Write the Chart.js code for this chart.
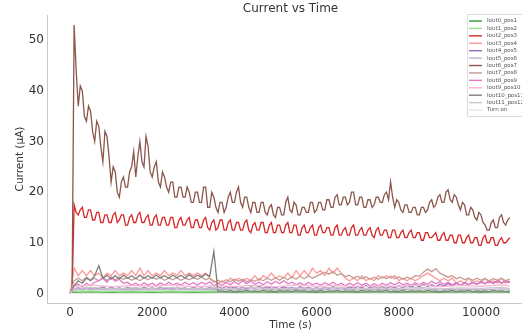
<!DOCTYPE html>
<html>
<head>
<meta charset="utf-8">
<script src="https://cdn.jsdelivr.net/npm/chart.js@4"></script>
<style>
html, body { margin: 0; padding: 0; background: #fff; overflow: hidden; }
#wrap { width: 522px; height: 336px; overflow: hidden; }
canvas { display: block; }
</style>
</head>
<body>
<div id="wrap"><canvas id="currentChart" width="540" height="336" style="width:540px;height:336px"></canvas></div>
<script>
// sample times (s)
const timeDense = [0,50,100,150,200,250,300,350,400,450,
  500,550,600,650,700,750,800,850,900,950,
  1000,1050,1100,1150,1200,1250,1300,1350,1400,1450,
  1500,1550,1600,1650,1700,1750,1800,1850,1900,1950,
  2000,2050,2100,2150,2200,2250,2300,2350,2400,2450,
  2500,2550,2600,2650,2700,2750,2800,2850,2900,2950,
  3000,3050,3100,3150,3200,3250,3300,3350,3400,3450,
  3500,3550,3600,3650,3700,3750,3800,3850,3900,3950,
  4000,4050,4100,4150,4200,4250,4300,4350,4400,4450,
  4500,4550,4600,4650,4700,4750,4800,4850,4900,4950,
  5000,5050,5100,5150,5200,5250,5300,5350,5400,5450,
  5500,5550,5600,5650,5700,5750,5800,5850,5900,5950,
  6000,6050,6100,6150,6200,6250,6300,6350,6400,6450,
  6500,6550,6600,6650,6700,6750,6800,6850,6900,6950,
  7000,7050,7100,7150,7200,7250,7300,7350,7400,7450,
  7500,7550,7600,7650,7700,7750,7800,7850,7900,7950,
  8000,8050,8100,8150,8200,8250,8300,8350,8400,8450,
  8500,8550,8600,8650,8700,8750,8800,8850,8900,8950,
  9000,9050,9100,9150,9200,9250,9300,9350,9400,9450,
  9500,9550,9600,9650,9700,9750,9800,9850,9900,9950,
  10000,10050,10100,10150,10200,10250,10300,10350,10400,10450,
  10500,10550,10600,10650,10700];
const timeFine = [0,100,200,300,400,500,600,700,800,900,
  1000,1100,1200,1300,1400,1500,1600,1700,1800,1900,
  2000,2100,2200,2300,2400,2500,2600,2700,2800,2900,
  3000,3100,3200,3300,3400,3500,3600,3700,3800,3900,
  4000,4100,4200,4300,4400,4500,4600,4700,4800,4900,
  5000,5100,5200,5300,5400,5500,5600,5700,5800,5900,
  6000,6100,6200,6300,6400,6500,6600,6700,6800,6900,
  7000,7100,7200,7300,7400,7500,7600,7700,7800,7900,
  8000,8100,8200,8300,8400,8500,8600,8700,8800,8900,
  9000,9100,9200,9300,9400,9500,9600,9700,9800,9900,
  10000,10100,10200,10300,10400,10500,10600,10700];
const timeCoarse = [0,100,500,1000,1500,2000,2500,3000,3500,4000,4500,5000,5500,6000,6500,7000,7500,8000,8500,9000,9500,10000,10500,10700];

// tick labels
const xTicks = [0, 2000, 4000, 6000, 8000, 10000];
const yTicks = [0, 10, 20, 30, 40, 50];

// currents (uA)
const iout6 = [0,0,53,44,37,41,40,35,34,37,
  36,32,30,34,33,29,26,32,31,27,
  22,25,24,20,19,22,23,21,21,24,
  25,28,23,27,30,26,25,31,29,24,
  23,25,26,22,21,24,23,21,20,22,
  22,19,19,21,21,19,19,21,20,18,
  18,20,20,18,18,21,21,17,17,20,
  19,17,16,18,18,16,17,19,20,18,
  18,20,21,18,17,19,19,17,16,18,
  18,16,16,18,18,16,15.5,17,17.5,15.5,
  15,17,17,15.5,15.5,18,19,16.5,16,18,
  17.5,15.5,15.5,17,17,16,16,18,18,16,
  16.5,18,18,16.5,16.5,18.5,18.5,17,17,19,
  19.5,17.5,17.5,19,19,17.5,18,20,20,17.5,
  17.5,19,19,17,17,18.5,18.5,17,17.5,19,
  19,18,18,19.5,20,18.5,22,19,17,18.5,
  18,16.5,16,17.5,17.5,16,16,17,17,15.5,
  15.5,17,17,16,16.5,18,18.5,17,17.5,19,
  19.5,18,18,20,20.5,18.5,18,19.5,19,17.5,
  16.5,18,17.5,15.5,15.5,17,16.5,15,14.5,16,
  15.5,14,13.5,12.5,12.5,14,14.5,13,13,15,
  15.5,14,13.5,14.5,15];
const iout2 = [0,0,17.5,16,15.5,16.5,17,15,15,16.5,
  16.5,14.5,14.5,16,16,14,14,15.5,15.5,14,
  14,15.5,16,14,14.5,15.5,15.5,13.5,13.5,15,
  15.5,14,14,15.5,16,14,14,15,15.5,13.5,
  13.5,15,15.5,13.5,13.5,15,15,13.5,13.5,15,
  15,13,13,14.5,15,13.5,13.5,14.5,15,13,
  13,14.5,14.5,13,13,14.5,15,13,12.5,14,
  14.5,12.5,13,14.5,14.5,12.5,12.5,14,14.5,12.5,
  12.5,14,14,12.5,12.5,14,14.5,12.5,12,13.5,
  14,12.5,12.5,14,14,12,12,13.5,14,12,
  12,13.5,13.5,12,12,13.5,14,12,12,13.5,
  13.5,11.5,11.5,13,13.5,12,12,13,13.5,11.5,
  11.5,13,13.5,12,12,13,13,11.5,11.5,13,
  13.5,11.5,11.5,12.5,13,11.5,11.5,13,13.5,11.5,
  11.5,12.5,13,11.5,11.5,12.5,13,11.5,11,12.5,
  13,11.5,11.5,12.5,12.5,11,11,12.5,12.5,11,
  11,12,12.5,11,11,12,12.5,11,11,12,
  12,10.5,10.5,12,12,11,11,11.5,12,10.5,
  10.5,11.5,12,10.5,10.5,11.5,11.5,10,10,11.5,
  11.5,10,10,11,11.5,10,10,11,11,9.5,
  9.5,11,11.5,10,10,11,11,9.5,9.5,10.5,
  11,10,10,10.5,11];
const iout3 = [0,5,3.5,4.5,3.5,4.5,3.5,4,3,4,
  3.5,4.5,3.5,4,3.5,4.5,3.5,5,3.5,4.5,
  3.5,4,3.5,4.5,3.5,4,3.5,4.5,3.5,4,
  3.5,4,3.5,4,3,2.5,2,2.5,2,3,
  2.5,3,2.5,3,2.5,3.5,2.5,3.5,3,4,
  3,3.5,3,4,3,4.5,3.5,4.5,3.5,5,
  4,4.5,3.5,5,4,5,4,3,2.5,3,
  2.5,3.5,2.5,3,2.5,3.5,3,3.5,3,3.5,
  2.5,3,2.5,3,2.5,3,3.5,4,3.5,3,
  2.5,3,2.5,3,2,2.5,2,3,2,2.5,
  2,3,2,2.5,2,3,2,2.5];
const iout7 = [0,2.5,3,2.5,3.2,2.6,3,2.5,3.1,2.6,
  3,2.7,3.2,2.8,3.1,2.6,3,2.5,3.1,2.7,
  3.2,2.8,3.1,2.6,3,2.7,3.1,2.6,3,2.7,
  3.1,2.8,3.2,2.7,3,2.2,2.6,2.2,2.7,2.3,
  2.8,2.4,2.8,2.3,2.7,2.4,2.9,2.5,3,2.6,
  3.1,2.6,3.2,2.7,3.3,2.8,3.4,2.9,3.5,3,
  3.4,3.8,4.2,3.8,4.3,3.6,3.9,3.3,3.6,3,
  3.4,2.9,3.3,2.8,3.2,2.8,3.3,2.9,3.4,2.9,
  3.3,2.8,3.2,2.9,3.5,3.4,4.2,4.8,4.3,4.9,
  4,3.6,3.2,3.5,2.9,3.2,2.7,3,2.6,3,
  2.6,2.9,2.5,2.9,2.6,3,2.5,2.8];
const iout10 = [0,1.5,2.5,2,3,2.5,3.5,5.5,3,3.6,
  2.8,3.5,2.9,3.6,3,3.5,2.9,3.6,3,3.5,
  3,3.6,3.1,3.5,3,3.6,3.1,3.6,3,3.7,
  3.1,3.6,3.2,3.8,3.4,8.3,0.4,0.5,0.3,0.6,
  0.3,0.5,0.4,0.6,0.3,0.5,0.3,0.6,0.4,0.5,
  0.3,0.6,0.4,0.5,0.3,0.6,0.4,0.5,0.3,0.5,
  0.4,0.6,0.3,0.5,0.4,0.6,0.3,0.5,0.4,0.5,
  0.3,0.6,0.4,0.5,0.3,0.5,0.4,0.6,0.3,0.5,
  0.4,0.6,0.3,0.5,0.4,0.5,0.3,0.6,0.4,0.5,
  0.3,0.5,0.4,0.6,0.3,0.5,0.4,0.6,0.3,0.5,
  0.4,0.5,0.3,0.6,0.4,0.5,0.3,0.5];
const iout8 = [0,1.5,1.8,1.3,2,1.5,2.2,2.5,3,2.2,
  3.3,2.4,2.8,2,2.2,1.6,2,1.5,2.1,1.6,
  2,1.5,2.1,1.6,2.2,1.7,2,1.6,2.2,1.7,
  2.1,1.6,2.2,1.8,2.3,1.5,2,1.6,2.2,1.7,
  2.3,1.8,2.5,1.9,2.4,1.8,2.2,1.7,2.3,1.8,
  2.4,1.9,2.5,1.9,2.2,1.7,2.1,1.6,2.2,1.7,
  2,1.6,2.1,1.7,2.2,1.6,2,1.5,2,1.6,
  2.1,1.6,2,1.5,1.9,1.5,2,1.6,2.1,1.7,
  2.2,1.7,2,1.6,2.1,1.7,2.2,1.8,2.4,1.9,
  2.3,1.8,2.2,1.7,2.1,1.6,2,1.7,2.2,1.8,
  2.3,1.9,2.4,1.9,2.5,2,2.4,2.1];
const iout4 = [0,0.8,1.1,0.7,1.2,0.8,1.1,0.9,1.3,0.8,
  1.2,0.9,1.1,0.8,1.2,0.9,1.1,0.8,1.2,0.9,
  1.1,0.8,1.2,0.9,1.1,0.8,1.2,0.9,1.1,0.8,
  1.2,0.9,1.1,0.8,1.2,0.9,1.3,1,1.4,1,
  1.3,0.9,1.2,0.9,1.3,1,1.4,1,1.3,1,
  1.2,0.9,1.3,1,1.2,0.9,1.3,1,1.2,0.9,
  1.1,0.9,1.2,1,1.3,1,1.2,0.9,1.3,1,
  1.4,1.1,1.5,1.1,1.4,1,1.3,1,1.4,1.1,
  1.5,1.1,1.6,1.2,1.7,1.3,1.8,1.4,1.7,1.3,
  1.8,1.4,1.9,1.5,2,1.6,2.1,1.7,2.2,1.8,
  2.3,1.9,2.4,2,2.5,2.1,2.4,2.2];
const iout0 = [0,0.2,0.3,0.2,0.3,0.2,0.3,0.2,0.3,0.2,0.3,0.2,0.3,0.2,0.3,0.2,0.3,0.2,0.3,0.2,0.3,0.2,0.3,0.2];
const iout1 = [0,0.4,0.5,0.4,0.5,0.4,0.5,0.4,0.5,0.4,0.5,0.4,0.5,0.4,0.5,0.4,0.5,0.4,0.5,0.4,0.5,0.4,0.5,0.4];
const iout5 = [0,0.7,0.9,0.7,0.8,0.7,0.9,0.7,0.8,0.7,0.9,0.7,0.8,0.7,0.9,0.7,0.8,0.7,0.9,0.7,0.8,0.7,0.9,0.8];
const iout9 = [0,1.4,1.7,1.3,1.6,1.4,1.7,1.3,1.5,1.4,1.6,1.3,1.7,1.4,1.6,1.3,1.5,1.4,1.7,1.3,1.6,1.4,1.7,1.5];
const iout11 = [0,1,1.2,0.9,1.1,1,1.2,0.9,1.1,1,1.2,0.9,1.1,1,1.2,0.9,1.1,1,1.2,0.9,1.1,1,1.2,1];
const turnOn = [0,0,0,0,0,0,0,0,0,0,0,0,0,0,0,0,0,0,0,0,0,0,0,0];

const seriesLabels = ['Iout0_pos1','Iout1_pos2','Iout2_pos3','Iout3_pos4','Iout4_pos5','Iout5_pos6',
  'Iout6_pos7','Iout7_pos8','Iout8_pos9','Iout9_pos10','Iout10_pos11','Iout11_pos12','Turn on'];
const seriesValues = [iout0, iout1, iout2, iout3, iout4, iout5, iout6, iout7, iout8, iout9, iout10, iout11, turnOn];
const seriesTimes = [timeCoarse, timeCoarse, timeDense, timeFine, timeFine, timeCoarse,
  timeDense, timeFine, timeFine, timeCoarse, timeFine, timeCoarse, timeCoarse];
const seriesColors = ['#2ca02c','#98df8a','#d62728','#ff9896','#9467bd','#c5b0d5',
  '#8c564b','#c49c94','#e377c2','#f7b6d2','#7f7f7f','#c7c7c7','#e6e6e0'];

const datasets = seriesLabels.map(function(label, i) {
    return {
        label: label,
        data: seriesValues[i].map(function(v, k) { return {x: seriesTimes[i][k], y: v}; }),
        borderColor: seriesColors[i],
        backgroundColor: seriesColors[i],
        borderWidth: 1.3,
        pointRadius: 0,
        tension: 0,
        order: seriesLabels.length - i   // last series drawn on top, like matplotlib
    };
});

// legend box drawn inside the plot, upper right
const insideLegend = {
    id: 'insideLegend',
    afterDraw(chart) {
        const ctx = chart.ctx;
        const area = chart.chartArea;
        const x0 = area.right - 67, y0 = area.top - 1;
        ctx.save();
        ctx.fillStyle = 'rgba(255,255,255,0.85)';
        ctx.strokeStyle = '#dcdcdc';
        ctx.lineWidth = 1;
        ctx.beginPath();
        ctx.rect(x0 + 0.5, y0 + 0.5, 80, 102);
        ctx.fill();
        ctx.stroke();
        ctx.font = '5.5px "DejaVu Sans"';
        ctx.textBaseline = 'middle';
        chart.data.datasets.forEach(function(ds, i) {
            const y = y0 + 7 + i * 7.42;
            ctx.strokeStyle = ds.borderColor;
            ctx.lineWidth = 1.4;
            ctx.beginPath();
            ctx.moveTo(x0 + 2, y);
            ctx.lineTo(x0 + 15, y);
            ctx.stroke();
            ctx.fillStyle = '#555';
            ctx.fillText(ds.label, x0 + 20, y);
        });
        ctx.restore();
    }
};

const ctx = document.getElementById('currentChart').getContext('2d');
const chart = new Chart(ctx, {
    type: 'line',
    data: { datasets: datasets },
    plugins: [insideLegend],
    options: {
        responsive: false,
        animation: false,
        layout: { padding: { left: 0, right: 6, top: 0, bottom: 0 } },
        plugins: {
            legend: { display: false },
            tooltip: { enabled: false },
            title: {
                display: true,
                text: 'Current vs Time',
                fullSize: false,
                color: '#333',
                font: { family: 'DejaVu Sans', size: 12, weight: 'normal', lineHeight: 1.0 },
                padding: { top: 3, bottom: 0 }
            }
        },
        scales: {
            x: {
                type: 'linear',
                min: -560,
                max: 11290,
                grid: { display: false, drawTicks: false },
                border: { display: true, color: '#c8c8c8', width: 1 },
                ticks: {
                    padding: 3,
                    maxRotation: 0,
                    autoSkip: false,
                    color: '#333',
                    font: { family: 'DejaVu Sans', size: 12 },
                    callback: function(v) { return String(v); }
                },
                afterBuildTicks: function(s) {
                    s.ticks = xTicks.map(function(v) { return {value: v}; });
                },
                title: {
                    display: true,
                    text: 'Time (s)',
                    color: '#333',
                    font: { family: 'DejaVu Sans', size: 10.5 },
                    padding: { top: 0, bottom: 4 }
                },
                afterFit: function(s) { s.height = 33; }
            },
            y: {
                min: -1.9,
                max: 55,
                grid: { display: false, drawTicks: false },
                border: { display: true, color: '#c8c8c8', width: 1 },
                ticks: {
                    padding: 3,
                    autoSkip: false,
                    color: '#333',
                    font: { family: 'DejaVu Sans', size: 12 },
                    callback: function(v) { return String(v); }
                },
                afterBuildTicks: function(s) {
                    s.ticks = yTicks.map(function(v) { return {value: v}; });
                },
                title: {
                    display: true,
                    text: 'Current (\u03bcA)',
                    color: '#333',
                    font: { family: 'DejaVu Sans', size: 10.5 },
                    padding: { top: 14, bottom: 0 }
                },
                afterFit: function(s) { s.width = 47; }
            }
        }
    }
});
</script>
</body>
</html>
